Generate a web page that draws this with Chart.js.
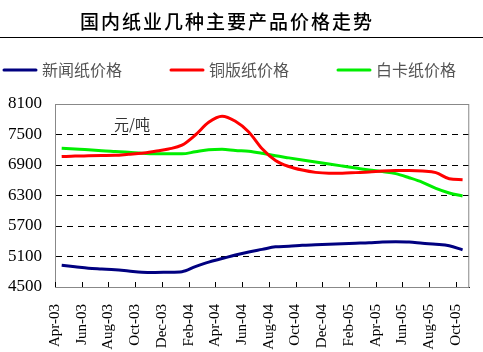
<!DOCTYPE html>
<html>
<head>
<meta charset="utf-8">
<script src="https://cdn.jsdelivr.net/npm/chart.js"></script>
<style>
  html, body { margin: 0; padding: 0; background: #fff; }
  #wrap { width: 483px; height: 352px; position: relative; }
</style>
</head>
<body>
<div id="wrap"><canvas id="paper-chart"></canvas></div>
<script>
// --- Data (one value per month, mid-month) ---
const months = ['Apr-03','May-03','Jun-03','Jul-03','Aug-03','Sep-03','Oct-03','Nov-03','Dec-03',
  'Jan-04','Feb-04','Mar-04','Apr-04','May-04','Jun-04','Jul-04','Aug-04','Sep-04','Oct-04','Nov-04','Dec-04',
  'Jan-05','Feb-05','Mar-05','Apr-05','May-05','Jun-05','Jul-05','Aug-05','Sep-05','Oct-05'];
const newsprint = [4930,4900,4870,4855,4840,4815,4790,4785,4790,4800,4900,4990,5060,5130,5190,5240,
  5290,5300,5320,5330,5340,5350,5360,5370,5385,5390,5385,5360,5340,5310,5230];
const coated = [7065,7075,7080,7085,7090,7110,7130,7170,7215,7290,7490,7740,7860,7760,7550,7220,
  6990,6870,6800,6755,6740,6740,6750,6760,6780,6790,6790,6780,6750,6630,6610];
const whiteboard = [7230,7215,7200,7180,7165,7150,7130,7120,7120,7120,7160,7200,7210,7185,7170,7130,
  7080,7040,7000,6960,6920,6880,6840,6800,6770,6730,6650,6560,6440,6350,6290];
const xTickLabels = ['Apr-03','Jun-03','Aug-03','Oct-03','Dec-03','Feb-04','Apr-04','Jun-04',
  'Aug-04','Oct-04','Dec-04','Feb-05','Apr-05','Jun-05','Aug-05','Oct-05'];
const seriesNames = ['新闻纸价格', '铜版纸价格', '白卡纸价格'];
const seriesColors = ['#000080', '#ff0000', '#00ee00'];
const titleText = '国内纸业几种主要产品价格走势';
const unitText = '元/吨';

const CJK = '"Noto Sans CJK SC", sans-serif';
const SERIF = '"Liberation Serif", "DejaVu Serif", serif';

const toPoints = (arr) => arr.map((v, i) => ({ x: i + 0.5, y: v }));

// --- Extra drawing: title, rule, legend, unit label, frame, inside ticks ---
const decorPlugin = {
  id: 'decor',
  beforeDatasetsDraw(chart) {
    const { ctx, chartArea: a } = chart;
    ctx.save();
    ctx.strokeStyle = '#888';
    ctx.lineWidth = 1;
    ctx.strokeRect(a.left + 0.5, a.top + 0.5, a.right - a.left - 1, a.bottom - a.top);
    ctx.restore();
  },
  afterDraw(chart) {
    const { ctx, chartArea: a } = chart;
    const xs = chart.scales.x;
    ctx.save();

    // title
    ctx.fillStyle = '#000';
    ctx.font = '500 19px ' + CJK;
    ctx.letterSpacing = '2px';
    ctx.textAlign = 'center';
    ctx.textBaseline = 'middle';
    ctx.fillText(titleText, 227, 22);
    ctx.letterSpacing = '0px';

    // rule under the title
    ctx.strokeStyle = '#000';
    ctx.lineWidth = 1;
    ctx.beginPath();
    ctx.moveTo(0, 37.5);
    ctx.lineTo(483, 37.5);
    ctx.stroke();

    // legend
    const legendX = [4, 171, 338];
    ctx.font = '16px ' + CJK;
    ctx.textAlign = 'left';
    chart.data.datasets.forEach((ds, i) => {
      ctx.strokeStyle = ds.borderColor;
      ctx.lineWidth = 3;
      ctx.lineCap = 'round';
      ctx.beginPath();
      ctx.moveTo(legendX[i], 70);
      ctx.lineTo(legendX[i] + 32, 70);
      ctx.stroke();
      ctx.fillStyle = '#555';
      ctx.fillText(ds.label, legendX[i] + 38, 70);
    });

    // unit label
    ctx.fillStyle = '#333';
    ctx.font = '15px ' + CJK;
    ctx.fillText(unitText, 114, 124);

    // tick marks pointing up from the x axis
    ctx.strokeStyle = '#000';
    ctx.lineWidth = 1;
    ctx.lineCap = 'butt';
    xs.ticks.forEach(t => {
      const px = Math.round(xs.getPixelForValue(t.value)) + 0.5;
      ctx.beginPath();
      ctx.moveTo(px, a.bottom);
      ctx.lineTo(px, a.bottom - 5);
      ctx.stroke();
    });
    ctx.restore();
  }
};

const ctx = document.getElementById('paper-chart').getContext('2d');
new Chart(ctx, {
  type: 'line',
  data: {
    datasets: [newsprint, coated, whiteboard].map((vals, i) => ({
      label: seriesNames[i],
      data: toPoints(vals),
      borderColor: seriesColors[i],
      backgroundColor: seriesColors[i],
      borderWidth: 3,
      pointRadius: 0,
      cubicInterpolationMode: 'monotone'
    }))
  },
  options: {
    responsive: true,
    maintainAspectRatio: false,
    animation: false,
    layout: { padding: { top: 104, right: 3, left: 0, bottom: 0 } },
    plugins: {
      legend: { display: false },
      title: { display: false },
      tooltip: { enabled: false }
    },
    scales: {
      x: {
        type: 'linear',
        min: 0,
        max: 31,
        afterFit: (s) => { s.height = 65; },
        afterBuildTicks: (s) => {
          s.ticks = xTickLabels.map((_, i) => ({ value: i * 2 }));
        },
        ticks: {
          callback: (v) => xTickLabels[v / 2],
          minRotation: 90,
          maxRotation: 90,
          padding: 9,
          color: '#000',
          font: { family: SERIF, size: 15 }
        },
        grid: { display: false },
        border: { color: '#000', width: 1 }
      },
      y: {
        min: 4500,
        max: 8100,
        afterFit: (s) => { s.width = 55; },
        ticks: {
          stepSize: 600,
          padding: 13,
          color: '#000',
          callback: (v) => String(v),
          font: { family: SERIF, size: 17 }
        },
        grid: {
          drawTicks: false,
          color: (c) => (c.tick.value === 4500 || c.tick.value === 8100) ? 'rgba(0,0,0,0)' : '#000',
          lineWidth: 1
        },
        border: { color: '#000', width: 1, dash: [6, 5] }
      }
    }
  },
  plugins: [decorPlugin]
});
</script>
</body>
</html>
